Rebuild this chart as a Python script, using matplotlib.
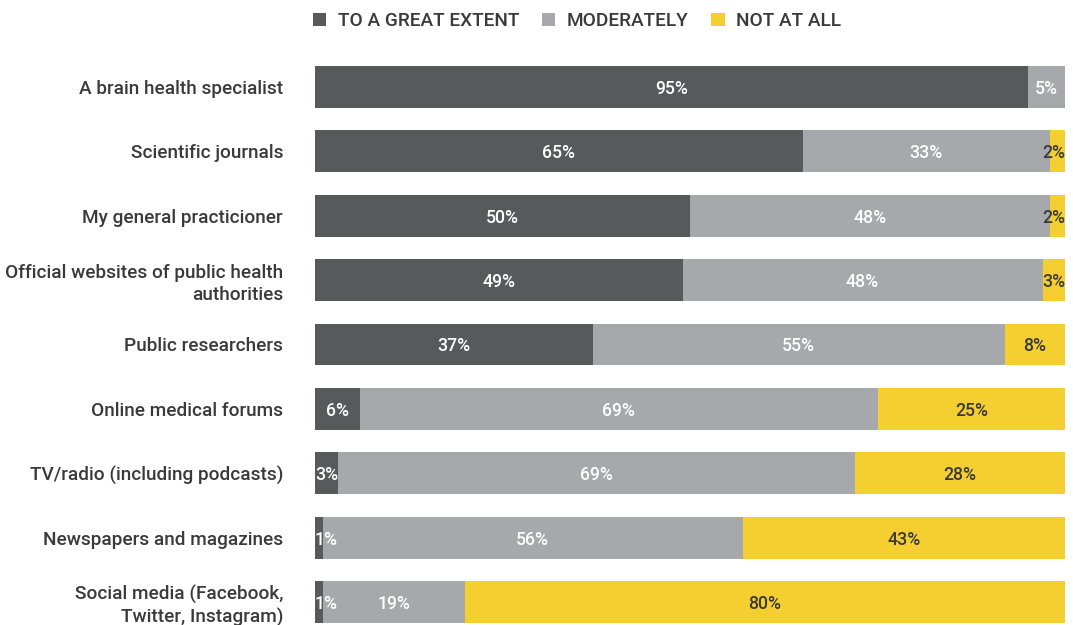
import matplotlib.pyplot as plt
from matplotlib.patches import Patch
import numpy as np

plt.rcParams['font.family'] = ['Roboto', 'DejaVu Sans']

# data
sources = ['A brain health specialist', 'Scientific journals', 'My general practicioner',
           'Official websites of public health\nauthorities', 'Public researchers',
           'Online medical forums', 'TV/radio (including podcasts)',
           'Newspapers and magazines', 'Social media (Facebook,\nTwitter, Instagram)']
great_extent = [95, 65, 50, 49, 37, 6, 3, 1, 1]
moderately = [5, 33, 48, 48, 55, 69, 69, 56, 19]
not_at_all = [0, 2, 2, 3, 8, 25, 28, 43, 80]
series_names = ['TO A GREAT EXTENT', 'MODERATELY', 'NOT AT ALL']

colors = ['#58595b', '#a7a8ab', '#f5ce30']
text_colors = ['white', 'white', '#3a3a3a']
label_color = '#3a3a3a'

fig = plt.figure(figsize=(10.73, 6.25), dpi=100)
ax = fig.add_axes([315 / 1073, 0, 750 / 1073, 1 - 54.8 / 625])

y = np.arange(len(sources))
left = np.zeros(len(sources))
for k, vals in enumerate([great_extent, moderately, not_at_all]):
    vals = np.array(vals, dtype=float)
    ax.barh(y, vals, left=left, height=0.65, color=colors[k], linewidth=0)
    for i, v in enumerate(vals):
        if v <= 0:
            continue
        cx = left[i] + v / 2
        ha = 'center'
        if v < 4 and k == 0:
            cx, ha = left[i], 'left'
        elif v < 4 and k == 2:
            cx, ha = 100, 'right'
        ax.text(cx, y[i], f'{int(v)}%', ha=ha, va='center_baseline', color=text_colors[k],
                fontsize=12.7, fontweight='medium')
    left += vals

ax.set_xlim(0, 100)
ax.set_ylim(8 + 23 / 64.4, -0.5)
ax.set_yticks(y)
ax.set_yticklabels(sources, fontsize=13.7, color=label_color, fontweight='medium',
                   linespacing=1.25)
ax.tick_params(axis='y', length=0, pad=23)
ax.set_xticks([])
for s in ax.spines.values():
    s.set_visible(False)

handles = [Patch(color=c, linewidth=0) for c in colors]
leg = fig.legend(handles, series_names, loc='upper left', ncol=3,
                 bbox_to_anchor=(313 / 1073, 1 - 12 / 625), frameon=False,
                 borderaxespad=0, borderpad=0, handlelength=0.7, handleheight=0.7,
                 handletextpad=0.6, columnspacing=1.2,
                 prop={'size': 13.7, 'weight': 'medium'})
for t in leg.get_texts():
    t.set_color(label_color)

fig.savefig('out.png', dpi=100)
